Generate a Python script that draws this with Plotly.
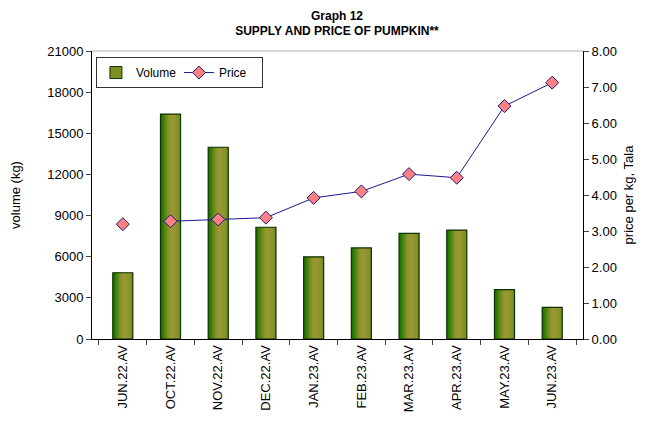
"""Graph 12 - supply and price of pumpkin"""
import plotly.graph_objects as go

# Data
months = ["JUN.22.AV", "OCT.22.AV", "NOV.22.AV", "DEC.22.AV", "JAN.23.AV",
          "FEB.23.AV", "MAR.23.AV", "APR.23.AV", "MAY.23.AV", "JUN.23.AV"]
volume = [4830, 16400, 13980, 8150, 5990, 6640, 7700, 7940, 3600, 2310]
price = [3.19, 3.27, 3.32, 3.37, 3.92, 4.10, 4.58, 4.48, 6.47, 7.12]

volume_ticks = [0, 3000, 6000, 9000, 12000, 15000, 18000, 21000]

# Horizontal gradient of the bars (left edge -> right edge)
gradient = ["#1f7300", "#3c7c0a", "#5c8616", "#7a8e24", "#8f962d",
            "#999933", "#979832", "#91952f", "#88922a", "#7a8c24"]

BAR_W = 0.42
FONT = "Liberation Sans, Arial, sans-serif"
TITLE_FONT = "Liberation Sans Narrow, Arial Narrow, Liberation Sans, sans-serif"
OUTLINE = "#0b3300"
NAVY = "#1a1a8c"

fig = go.Figure()

# Bars drawn as overlapping thin strips to fake the gradient fill
strip = BAR_W / len(gradient)
for i, col in enumerate(gradient):
    w = strip if i == len(gradient) - 1 else strip * 2
    fig.add_trace(go.Bar(
        x=months, y=volume,
        width=w, offset=-BAR_W / 2 + i * strip,
        marker=dict(color=col, line=dict(width=0)),
        showlegend=False, hoverinfo="skip",
    ))

# Outline on top of the strips
fig.add_trace(go.Bar(
    x=months, y=volume, width=BAR_W, offset=-BAR_W / 2,
    marker=dict(color="rgba(0,0,0,0)", line=dict(color=OUTLINE, width=1.2)),
    showlegend=False,
))

# Legend entry for the volume bars
fig.add_trace(go.Bar(
    x=months[:1], y=[None], name="Volume",
    marker=dict(color="#7f8f22", line=dict(color=OUTLINE, width=1)),
))

# Price line: JUN.22 is not joined to the rest of the series
diamond = dict(symbol="diamond", size=10, color="#ff8080",
               line=dict(color=NAVY, width=1))
fig.add_trace(go.Scatter(
    x=months[1:], y=price[1:], name="Price", yaxis="y2",
    mode="lines+markers", line=dict(color=NAVY, width=1),
    marker=diamond, legendgroup="price",
))
fig.add_trace(go.Scatter(
    x=months[:1], y=price[:1], yaxis="y2", mode="markers",
    marker=diamond, showlegend=False, legendgroup="price",
))

# page body adds an 8px margin, so the figure is 8px smaller than the window
fig.update_layout(
    width=647, height=415,
    margin=dict(l=84, r=72, t=43, b=84),
    paper_bgcolor="white", plot_bgcolor="white",
    font=dict(family=FONT, size=13, color="black"),
    barmode="overlay",
    title=dict(
        text="<b>Graph 12</b><br><b>SUPPLY AND PRICE OF PUMPKIN**</b>",
        x=0.5085, xanchor="center", xref="container",
        y=0.972, yanchor="middle", yref="container",
        font=dict(family=TITLE_FONT, size=12),
    ),
    xaxis=dict(
        type="category", tickangle=-90, showgrid=False, automargin=False,
        showline=True, linecolor="black", linewidth=1,
        ticks="outside", ticklen=5, tickson="boundaries",
    ),
    yaxis=dict(
        range=[0, 21000], tickvals=volume_ticks, tickformat="d",
        showgrid=False, automargin=False,
        showline=True, linecolor="black", linewidth=1,
        ticks="outside", ticklen=5, zeroline=False,
        title=dict(text="volume (kg)", standoff=24, font=dict(size=13)),
    ),
    yaxis2=dict(
        overlaying="y", side="right", range=[0, 8], dtick=1,
        tickformat=".2f", showgrid=False, automargin=False,
        showline=True, linecolor="black", linewidth=1,
        ticks="outside", ticklen=5, zeroline=False,
        title=dict(text="price per kg, Tala", standoff=7, font=dict(size=13)),
    ),
    legend=dict(
        orientation="h", x=0.008, y=0.979, xanchor="left", yanchor="top",
        bgcolor="white", bordercolor="#333333", borderwidth=1,
        font=dict(size=12), entrywidth=38, tracegroupgap=0,
    ),
    shapes=[dict(type="line", xref="paper", yref="paper",
                 x0=0, x1=1, y0=1, y1=1,
                 line=dict(color="#b0b0b0", width=1))],
)

fig.write_html("out.html")
